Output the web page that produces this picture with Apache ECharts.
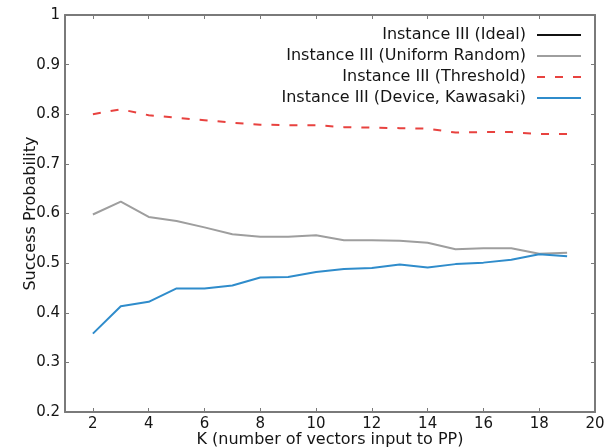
<!DOCTYPE html>
<html>
<head>
<meta charset="utf-8">
<script src="https://cdn.jsdelivr.net/npm/echarts@6/dist/echarts.min.js"></script>
<style>
  html, body { margin: 0; padding: 0; background: #fff; }
  #chart { width: 608px; height: 448px; }
</style>
</head>
<body>
<div id="chart"></div>
<script>
// K values (x axis)
const kValues = [2, 3, 4, 5, 6, 7, 8, 9, 10, 11, 12, 13, 14, 15, 16, 17, 18, 19]

// success probability per series
const ideal = [1, 1, 1, 1, 1, 1, 1, 1, 1, 1, 1, 1, 1, 1, 1, 1, 1, 1]
const uniformRandom = [0.598, 0.624, 0.593, 0.585, 0.572, 0.558, 0.553, 0.553, 0.556,
  0.546, 0.546, 0.545, 0.541, 0.528, 0.530, 0.530, 0.519, 0.521]
const threshold = [0.800, 0.810, 0.798, 0.793, 0.788, 0.783, 0.779, 0.778, 0.778,
  0.774, 0.773, 0.772, 0.771, 0.763, 0.764, 0.764, 0.760, 0.760]
const deviceKawasaki = [0.358, 0.413, 0.422, 0.449, 0.449, 0.455, 0.471, 0.472, 0.482,
  0.488, 0.490, 0.497, 0.491, 0.498, 0.501, 0.507, 0.518, 0.514]

// tick labels
const xTicks = [2, 4, 6, 8, 10, 12, 14, 16, 18, 20]
const yTicks = ['0.2', '0.3', '0.4', '0.5', '0.6', '0.7', '0.8', '0.9', '1']

const names = [
  'Instance III (Ideal)',
  'Instance III (Uniform Random)',
  'Instance III (Threshold)',
  'Instance III (Device, Kawasaki)'
]

const font = 'DejaVu Sans'
const textColor = '#151515'
const borderColor = '#7a7a7a'

const pairs = vals => kValues.map((k, i) => [k, vals[i]])

const lineSeries = (name, vals, color, type, extra) => Object.assign({
  name: name,
  type: 'line',
  data: pairs(vals),
  symbol: 'none',
  lineStyle: { color: color, width: 2, type: type },
  itemStyle: { color: color },
  animation: false
}, extra || {})

const chart = echarts.init(document.getElementById('chart'), null, { renderer: 'canvas' })

const axisCommon = {
  type: 'value',
  axisLine: { show: true, lineStyle: { color: borderColor, width: 2 } },
  splitLine: { show: false }
}

chart.setOption({
  backgroundColor: '#fff',
  animation: false,
  grid: { left: 65, right: 13, top: 15, bottom: 36, outerBoundsMode: 'none', containLabel: false },
  legend: {
    data: names,
    orient: 'vertical',
    align: 'right',
    right: 21,
    top: 22,
    itemWidth: 44,
    itemHeight: 14,
    itemGap: 5,
    itemStyle: { opacity: 0 },
    textStyle: { fontFamily: font, fontSize: 16, color: textColor, padding: [0, 6, 0, 0] }
  },
  xAxis: [
    Object.assign({}, axisCommon, {
      min: 1, max: 20,
      position: 'bottom',
      name: 'K (number of vectors input to PP)',
      nameLocation: 'middle',
      nameGap: 20,
      nameMoveOverlap: false,
      nameTextStyle: { fontFamily: font, fontSize: 16, color: textColor },
      axisTick: { show: true, inside: true, length: 4, customValues: xTicks, lineStyle: { color: borderColor } },
      axisLabel: { show: true, margin: 5, fontFamily: font, fontSize: 15, color: textColor, customValues: xTicks }
    }),
    Object.assign({}, axisCommon, {
      min: 1, max: 20,
      position: 'top',
      z: 5,
      axisTick: { show: true, inside: true, length: 4, customValues: xTicks, lineStyle: { color: borderColor } },
      axisLabel: { show: false }
    })
  ],
  yAxis: [
    Object.assign({}, axisCommon, {
      min: 0.2, max: 1, interval: 0.1,
      position: 'left',
      name: 'Success Probability',
      nameLocation: 'middle',
      nameGap: 26,
      nameMoveOverlap: false,
      nameTextStyle: { fontFamily: font, fontSize: 16, color: textColor },
      axisTick: { show: true, inside: true, length: 4, lineStyle: { color: borderColor } },
      axisLabel: {
        margin: 5, fontFamily: font, fontSize: 15, color: textColor,
        formatter: (v) => yTicks[Math.round((v - 0.2) * 10)]
      }
    }),
    Object.assign({}, axisCommon, {
      min: 0.2, max: 1, interval: 0.1,
      position: 'right',
      axisTick: { show: true, inside: true, length: 4, lineStyle: { color: borderColor } },
      axisLabel: { show: false }
    })
  ],
  series: [
    lineSeries(names[0], ideal, '#111111', 'solid', { z: 1 }),
    lineSeries(names[1], uniformRandom, '#9e9e9e', 'solid'),
    lineSeries(names[2], threshold, '#e8423f', [8, 10]),
    lineSeries(names[3], deviceKawasaki, '#2f8ccb', 'solid')
  ]
})
</script>
</body>
</html>
